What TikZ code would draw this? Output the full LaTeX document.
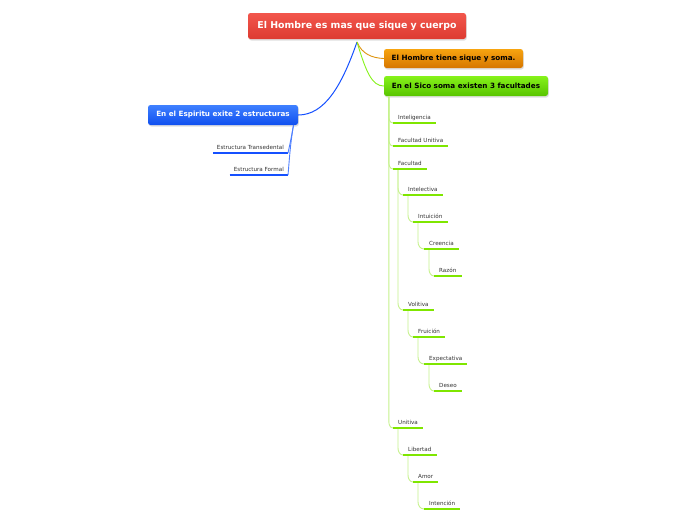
\documentclass[tikz,border=0pt]{standalone}
\usepackage{fontspec}
\setmainfont{DejaVu Sans}
\usetikzlibrary{shadows}
\definecolor{rootT}{HTML}{F2564C}
\definecolor{rootB}{HTML}{DD3B31}
\definecolor{orT}{HTML}{F7A410}
\definecolor{orB}{HTML}{D67600}
\definecolor{grT}{HTML}{86F21A}
\definecolor{grB}{HTML}{58C400}
\definecolor{blT}{HTML}{3F80FF}
\definecolor{blB}{HTML}{0F4FEF}
\definecolor{uline}{HTML}{7FE600}
\definecolor{gconn}{HTML}{C6F28C}
\definecolor{bline}{HTML}{1550FF}
\definecolor{bconn}{HTML}{4D7FFF}
\definecolor{txt}{HTML}{333333}
\tikzset{
  topic/.style={rounded corners=2.5pt, inner sep=0pt, font=\bfseries,
    drop shadow={shadow xshift=0.8pt, shadow yshift=-1.5pt, opacity=0.25}},
  item/.style={anchor=south west, inner xsep=5pt, inner ysep=2.2pt, text height=4.1pt, text depth=1pt,
    font=\fontsize{5.6}{6.5}\selectfont, text=txt},
  bitem/.style={item, anchor=south east, inner xsep=4pt},
  gul/.style={draw=uline, line width=2pt},
  bul/.style={draw=bline, line width=2.2pt},
  gc/.style={draw=gconn, line width=0.9pt},
  bc/.style={draw=bconn, line width=0.9pt},
}
\begin{document}
\begin{tikzpicture}[x=1pt,y=-1pt]
\useasboundingbox (0,0) rectangle (696,520);
\fill[white] (0,0) rectangle (696,520);
% main topics
\node[topic, top color=rootT, bottom color=rootB, text=white, minimum width=218pt, minimum height=26pt,
  font=\bfseries\fontsize{9.4}{11}\selectfont] (root) at (357,26) {El Hombre es mas que sique y cuerpo};
\node[topic, top color=orT, bottom color=orB, text=black, minimum width=139pt, minimum height=19pt,
  font=\bfseries\fontsize{7.2}{8.5}\selectfont] (hom) at (453.5,58.5) {El Hombre tiene sique y soma.};
\node[topic, top color=grT, bottom color=grB, text=black, minimum width=164pt, minimum height=20pt,
  font=\bfseries\fontsize{7.2}{8.5}\selectfont] (sico) at (466,86) {En el Sico soma existen 3 facultades};
\node[topic, top color=blT, bottom color=blB, text=white, minimum width=150pt, minimum height=20pt,
  font=\bfseries\fontsize{7.2}{8.5}\selectfont] (esp) at (223,115) {En el Espiritu exite 2 estructuras};
\coordinate (rb) at (357,42);
\draw[draw=bline, line width=1pt] (rb) .. controls (342,85) and (325,115) .. (esp.east);
\draw[draw=orT!90!black, line width=0.9pt] (rb) .. controls (362,54) and (372,58) .. (hom.west);
\draw[draw=grT, line width=0.9pt] (rb) .. controls (366,72) and (372,86) .. (sico.west);
% blue children
\node[bitem] (tra) at (288,153) {Estructura Transedental};
\node[bitem] (for) at (288,175) {Estructura Formal};
\foreach \n in {tra,for}{\draw[bul] (\n.south west) -- (\n.south east);}
\coordinate (eb) at (293.5,125);
\draw[bc] (eb) .. controls (291,140) and (289,148) .. (tra.south east);
\draw[bc] (eb) .. controls (290,145) and (289,165) .. (for.south east);
% green children
\node[item] (int) at (393,123) {Inteligencia};
\node[item] (fun) at (393,146) {Facultad Unitiva};
\node[item] (fac) at (393,169) {Facultad};
\node[item] (ite) at (403,195) {Intelectiva};
\node[item] (ntu) at (413,222) {Intuición};
\node[item] (cre) at (424,249) {Creencia};
\node[item] (raz) at (434,276) {Razón};
\node[item] (vol) at (403,310) {Volitiva};
\node[item] (fru) at (413,337) {Fruición};
\node[item] (exp) at (424,364) {Expectativa};
\node[item] (des) at (434,391) {Deseo};
\node[item] (uni) at (393,428) {Unitiva};
\node[item] (lib) at (403,455) {Libertad};
\node[item] (amo) at (413,482) {Amor};
\node[item] (inc) at (424,509) {Intención};
\coordinate (sb) at ([xshift=5pt]sico.south west);
\foreach \c in {int,fun,fac,uni}{
  \draw[gc] (sb) -- ([yshift=7pt]sb |- \c.south west) to[out=-90,in=180] (\c.south west);}
\foreach \p/\c in {fac/ite,ite/ntu,ntu/cre,cre/raz,fac/vol,vol/fru,fru/exp,exp/des,uni/lib,lib/amo,amo/inc}{
  \draw[gc] ([xshift=5pt]\p.south west) -- ([xshift=5pt,yshift=7pt]\p.south west |- \c.south west)
    to[out=-90,in=180] (\c.south west);}
\foreach \n in {int,fun,fac,ite,ntu,cre,raz,vol,fru,exp,des,uni,lib,amo,inc}{
  \draw[gul] (\n.south west) -- (\n.south east);}
\end{tikzpicture}
\end{document}
